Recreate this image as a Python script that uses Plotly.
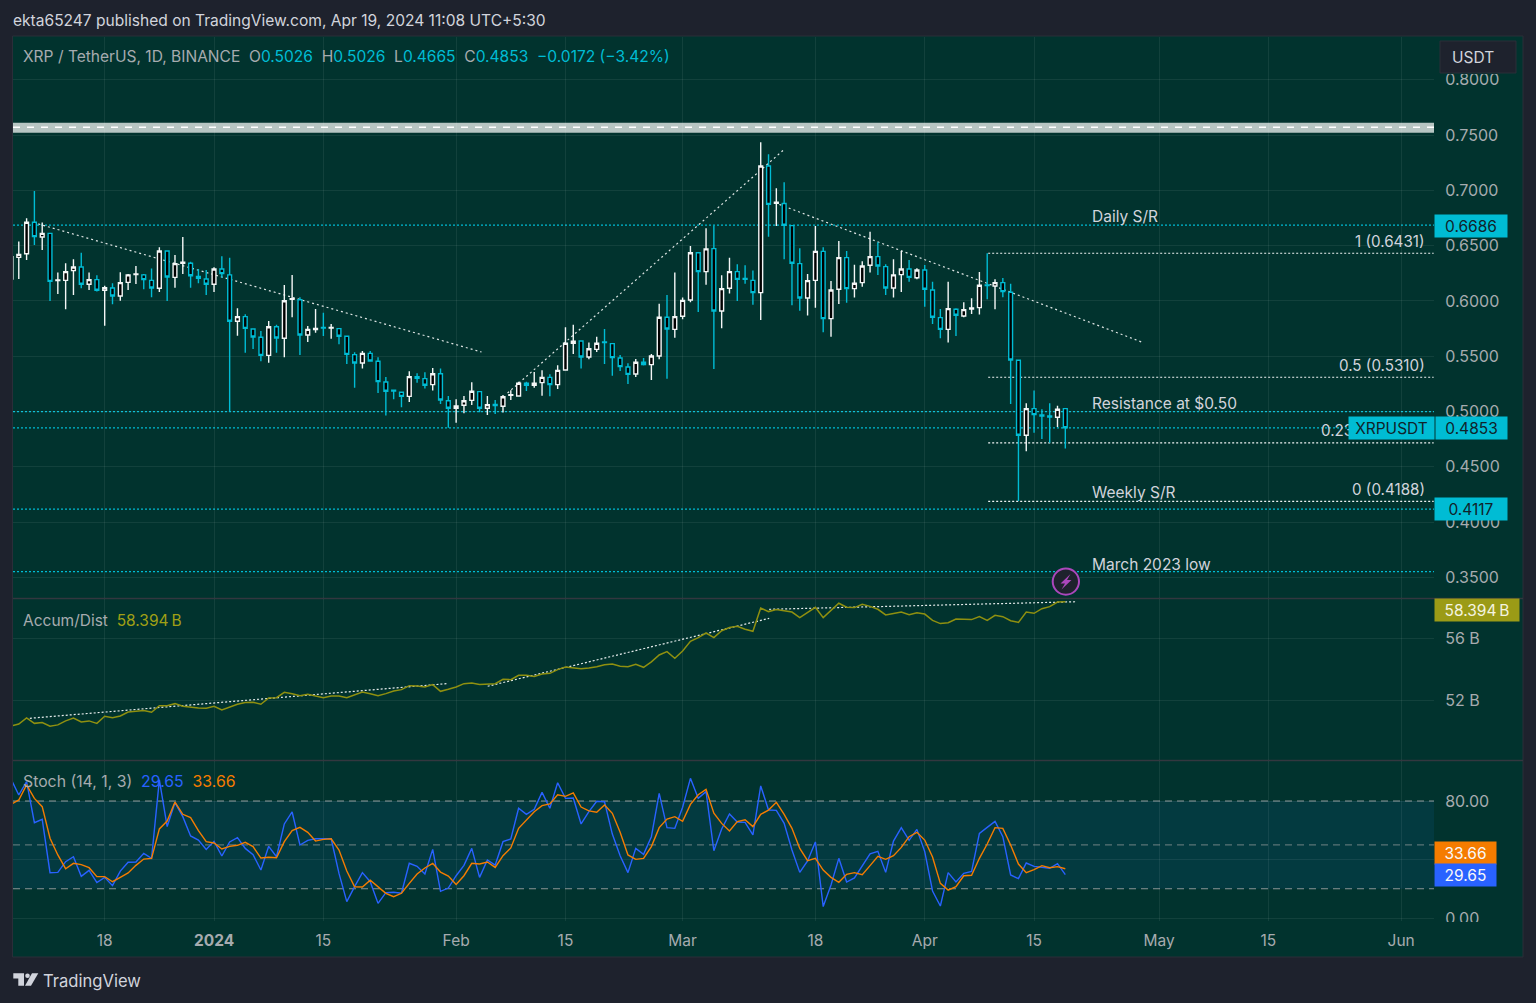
# XRP / USDT daily chart with Accum/Dist and Stochastic panes

import pandas as pd
import plotly.graph_objs as go

W, H = 1536, 1003

opens_dec = [.6198, .6394, .6427, .6711, .6578, .6611, .6183, .6186, .6274, .6307, .6150, .6192, .6096, .6117, .6045, .6168, .6238, .6235, .6186, .6114, .6451, .6213, .6340, .6340, .6222, .6198]
highs_dec = [.6400, .6536, .6747, .6994, .6708, .6611, .6256, .6340, .6376, .6436, .6256, .6232, .6138, .6159, .6259, .6244, .6316, .6244, .6292, .6485, .6457, .6415, .6578, .6355, .6289, .6280]
lows_dec = [.6198, .6198, .6370, .6506, .6461, .5999, .6063, .5924, .6054, .6114, .6099, .6084, .5776, .5969, .6002, .6099, .6153, .6105, .6033, .6081, .5999, .6120, .6244, .6120, .6159, .6054]
closes_dec = [.6400, .6421, .6711, .6581, .6611, .6177, .6189, .6265, .6307, .6150, .6192, .6096, .6120, .6045, .6165, .6235, .6244, .6192, .6117, .6451, .6216, .6337, .6349, .6228, .6204, .6150]

opens_jan = [.6150, .6289, .6235, .5816, .5858, .5746, .5671, .5508, .5767, .5662, .6014, .6011, .5692, .5740, .5761, .5755, .5749, .5680, .5514, .5439, .5526, .5454, .5267, .5192, .5174, .5137, .5315, .5297, .5243, .5342, .5098]
highs_jan = [.6304, .6403, .6391, .5933, .5879, .5752, .5728, .5819, .5785, .6144, .6235, .6033, .5773, .5927, .5894, .5791, .5755, .5683, .5535, .5547, .5547, .5490, .5312, .5192, .5177, .5363, .5345, .5354, .5393, .5390, .5140]
lows_jan = [.6081, .6210, .4999, .5686, .5532, .5565, .5454, .5442, .5532, .5490, .5852, .5511, .5629, .5713, .5683, .5659, .5608, .5430, .5216, .5388, .5451, .5168, .4963, .5110, .5038, .5086, .5261, .5207, .5189, .5068, .4854]
closes_jan = [.6289, .6247, .5816, .5858, .5752, .5674, .5508, .5767, .5665, .6002, .6020, .5692, .5743, .5752, .5755, .5761, .5680, .5517, .5439, .5526, .5457, .5270, .5183, .5186, .5137, .5315, .5300, .5237, .5342, .5104, .5029]

opens_feb = [.5029, .5056, .5101, .5180, .5029, .5065, .5047, .5146, .5140, .5255, .5237, .5261, .5309, .5243, .5375, .5617, .5638, .5493, .5562, .5629, .5614, .5484, .5403, .5339, .5445, .5424, .5502, .5852, .5743]
highs_feb = [.5110, .5140, .5264, .5183, .5140, .5104, .5149, .5192, .5270, .5270, .5357, .5372, .5336, .5418, .5761, .5785, .5641, .5623, .5677, .5746, .5617, .5511, .5436, .5475, .5484, .5520, .5975, .6054, .6256]
lows_feb = [.4899, .4984, .5059, .4993, .4969, .4978, .4990, .5104, .5134, .5186, .5216, .5143, .5137, .5204, .5369, .5520, .5390, .5472, .5538, .5430, .5324, .5366, .5249, .5312, .5415, .5285, .5472, .5297, .5668]
closes_feb = [.5050, .5098, .5183, .5029, .5062, .5053, .5134, .5152, .5255, .5237, .5255, .5309, .5243, .5372, .5617, .5635, .5493, .5568, .5617, .5623, .5487, .5406, .5336, .5445, .5424, .5502, .5852, .5746, .5858]

opens_mar = [.5861, .6008, .6436, .6265, .6473, .5909, .6114, .6265, .6204, .6186, .6075, .7220, .6883, .6880, .6681, .6337, .6026, .6186, .6448, .5840, .6105, .6391, .6111, .6165, .6322, .6400, .6310, .6117, .6238, .6289, .6210]
highs_mar = [.6030, .6497, .6436, .6656, .6680, .6232, .6391, .6331, .6322, .6274, .7434, .7326, .7018, .7072, .6681, .6476, .6244, .6678, .6485, .6180, .6542, .6451, .6328, .6358, .6626, .6530, .6331, .6376, .6451, .6370, .6295]
lows_mar = [.5834, .5987, .5900, .6147, .5384, .5752, .6066, .5999, .6156, .5966, .5828, .6581, .6678, .6376, .5960, .5912, .5867, .5939, .5716, .5677, .5972, .5984, .6030, .6129, .6256, .6235, .6054, .6030, .6081, .6174, .6195]
closes_mar = [.6005, .6436, .6265, .6470, .5909, .6111, .6265, .6195, .6195, .6075, .7220, .6873, .6892, .6684, .6340, .6026, .6183, .6448, .5840, .6099, .6391, .6111, .6159, .6316, .6400, .6316, .6117, .6235, .6289, .6213, .6280]

opens_apr = [.6280, .6099, .5849, .5743, .5924, .5864, .5927, .5939, .6144, .6135, .6165, .6078, .5463, .4785, .5026, .4969, .4960, .4948, .5026]
highs_apr = [.6325, .6174, .5927, .6174, .5933, .5987, .6024, .6262, .6430, .6195, .6207, .6156, .5466, .5074, .5189, .5020, .5074, .5053, .5026]
lows_apr = [.5948, .5791, .5662, .5623, .5683, .5852, .5882, .5876, .6014, .5924, .6033, .5068, .4191, .4640, .4809, .4752, .4718, .4860, .4665]
closes_apr = [.6105, .5852, .5743, .5930, .5870, .5921, .5936, .6141, .6138, .6165, .6084, .5466, .4785, .5026, .4972, .4960, .4951, .5020, .4853]

accum_dec = [50.33, 50.46, 50.85, 50.50, 50.55, 50.31, 50.40, 50.66, 50.85, 50.59, 50.66, 50.50, 50.96, 50.87, 50.98, 51.24, 51.28, 51.33, 51.22, 51.65, 51.65, 51.78, 51.61, 51.54, 51.50, 51.48]
accum_jan = [51.61, 51.37, 51.57, 51.74, 51.85, 51.87, 51.74, 52.15, 52.17, 52.52, 52.43, 52.30, 52.39, 52.28, 52.17, 52.28, 52.28, 52.17, 52.37, 52.54, 52.43, 52.30, 52.43, 52.60, 52.69, 52.95, 52.93, 52.86, 53.02, 52.58, 52.71]
accum_feb = [52.86, 53.08, 53.12, 53.02, 53.06, 53.08, 53.36, 53.34, 53.62, 53.62, 53.54, 53.71, 53.75, 53.99, 54.16, 54.10, 54.05, 54.10, 54.18, 54.31, 54.36, 54.21, 54.18, 54.34, 54.14, 54.49, 54.94, 55.16, 54.73]
accum_mar = [55.20, 55.83, 56.07, 56.37, 56.07, 56.52, 56.72, 56.80, 56.61, 56.48, 57.99, 57.76, 57.89, 57.80, 57.73, 57.37, 57.71, 58.04, 57.37, 57.84, 58.30, 58.04, 58.02, 58.23, 58.10, 57.91, 57.54, 57.63, 57.73, 57.56, 57.69]
accum_apr = [57.60, 57.19, 56.98, 57.04, 57.28, 57.28, 57.24, 57.43, 57.19, 57.52, 57.43, 57.17, 57.06, 57.73, 57.65, 57.95, 58.08, 58.38, 58.394]

stoch_k_dec = [95, 84.1, 93.2, 65.2, 67.5, 31.0, 31.2, 38.5, 41.9, 28.5, 32.6, 24.2, 27.8, 22.1, 32.1, 38.1, 38.3, 44.2, 40.8, 94.4, 62.5, 78.9, 69.3, 56.1, 53.3, 46.9]
stoch_k_jan = [52.4, 42.4, 52, 54.9, 47.6, 43.3, 32.8, 49, 41.9, 64.3, 72.5, 49.9, 53.1, 54.2, 54.2, 54.2, 30.5, 11.2, 21.4, 31, 24.8, 10, 17.3, 17.6, 16.9, 37.4, 35.3, 30.1, 46.9, 18.2, 20.5]
stoch_k_feb = [28.9, 36, 47.6, 27.8, 39.7, 36.2, 52.2, 54, 75, 70.9, 74.3, 85.9, 75, 92.5, 81.8, 82, 64.3, 72.7, 79.8, 79.5, 57.4, 42.6, 31, 47.6, 43.5, 55.6, 85.2, 61.8, 61.3]
stoch_k_mar = [75.7, 95.5, 81.8, 86.4, 46, 60.9, 71.1, 65.6, 65.4, 56.8, 90.3, 73.8, 73.6, 64.7, 46.5, 31.2, 39, 52, 7.8, 22.6, 40.8, 24.6, 27.4, 35.6, 43.8, 45.6, 31.2, 52.6, 61.8, 53.1, 60.6]
stoch_k_apr = [45.4, 18.5, 8.2, 31, 24.6, 30.5, 31.9, 57.9, 62, 66.1, 55.6, 29.4, 26.9, 37.6, 35.3, 34.6, 34, 37.2, 29.65]

stoch_d_dec = [77.7, 80.7, 91, 81.8, 76.1, 54.5, 43.1, 33.7, 37.4, 36.5, 34.4, 28.3, 28.3, 24.8, 27.8, 30.8, 36, 40.3, 40.8, 60.9, 66.3, 79.3, 70.9, 68.6, 59.7, 52.2]
stoch_d_jan = [51.3, 47.2, 49, 49.7, 51.7, 48.8, 41, 41.5, 41.2, 52.2, 59.7, 62, 58.6, 52.6, 53.8, 54.2, 46.5, 32.1, 21.4, 21.2, 25.8, 21.4, 16.9, 14.6, 16.9, 23.7, 30.1, 34.2, 37.4, 31.4, 28.7]
stoch_d_feb = [23, 28.9, 37.4, 36.9, 38.3, 34.6, 42.6, 47.9, 61.3, 67, 72.7, 76.8, 78, 84.3, 83.2, 85.5, 75.9, 73.2, 72.3, 77.3, 71.6, 58.6, 43.1, 40.1, 40.8, 48.8, 61.8, 67.7, 69.3]
stoch_d_mar = [66.1, 77.7, 84.3, 88, 71.6, 64.7, 59.5, 65.9, 67.2, 62.5, 70.9, 73.8, 79.1, 70.9, 61.3, 47.6, 39.2, 40.8, 32.8, 27.8, 24.4, 29.9, 31, 29.6, 35.8, 42.2, 40.1, 42.6, 48.3, 55.6, 58.6]
stoch_d_apr = [53.3, 41.7, 23.7, 19.1, 21.4, 28.9, 29.2, 40.8, 50.6, 61.8, 61.3, 49.9, 36.9, 31, 33.1, 35.8, 34.4, 35.1, 33.66]

opens = opens_dec + opens_jan + opens_feb + opens_mar + opens_apr
highs = highs_dec + highs_jan + highs_feb + highs_mar + highs_apr
lows = lows_dec + lows_jan + lows_feb + lows_mar + lows_apr
closes = closes_dec + closes_jan + closes_feb + closes_mar + closes_apr
accum = accum_dec + accum_jan + accum_feb + accum_mar + accum_apr
stoch_k = stoch_k_dec + stoch_k_jan + stoch_k_feb + stoch_k_mar + stoch_k_apr
stoch_d = stoch_d_dec + stoch_d_jan + stoch_d_feb + stoch_d_mar + stoch_d_apr
dates = pd.date_range('2023-12-06', periods=len(closes), freq='D')

# levels and hand drawn lines on the price pane
cyan_levels = [0.6686, 0.4999, 0.4853, 0.4117, 0.3552]
fib_levels = [0.6431, 0.5310, 0.4717, 0.4188]
fib_dates = ['2024-04-09 03:00', '2024-06-05 04:00']
price_trend_dates = [('2023-12-09 12:00', '2024-02-04 06:00'),
                     ('2024-02-07 14:00', '2024-03-13 22:00'),
                     ('2024-03-12 19:00', '2024-04-28 19:00')]
price_trend_values = [(0.6696, 0.5538), (0.5167, 0.7364), (0.6888, 0.5628)]
accum_trend_dates = [('2023-12-08 10:00', '2024-01-30 19:00'),
                     ('2024-02-05 01:00', '2024-03-12 02:00'),
                     ('2024-03-12 02:00', '2024-04-20 08:00')]
accum_trend_values = [(50.83, 53.08), (52.91, 57.32), (57.91, 58.40)]
band_values = [0.7521, 0.7611]
band_dash_value = 0.7570

price_ticks = [0.35, 0.40, 0.45, 0.50, 0.55, 0.60, 0.65, 0.70, 0.75, 0.80]
price_tick_labels = ['0.3500', '0.4000', '0.4500', '0.5000', '0.5500', '0.6000', '0.6500', '0.7000', '0.7500', '0.8000']
accum_ticks = [52, 56]
accum_tick_labels = ['52 B', '56 B']
stoch_ticks = [0, 40, 80]
stoch_tick_labels = ['0.00', '', '80.00']
date_ticks = ['2023-12-18', '2024-01-01', '2024-01-15', '2024-02-01', '2024-02-15', '2024-03-01',
              '2024-03-18', '2024-04-01', '2024-04-15', '2024-05-01', '2024-05-15', '2024-06-01']
date_tick_labels = ['18', '<b>2024</b>', '15', 'Feb', '15', 'Mar', '18', 'Apr', '15', 'May', '15', 'Jun']

FRAME = '#1e222d'
PANEL = '#01332e'
GRID = 'rgba(255,255,255,0.07)'
CYAN = '#00bcd4'
OLIVE = '#8f9010'
FONT = 'Inter'
TEXT = '#d1d4dc'
MUTED = '#a6abaf'


def px(x):
    return x / W


def py(y):
    return 1 - y / H


def note(text, x, y, size=15.5, color=TEXT, anchor='left'):
    return dict(text=text, x=px(x), y=py(y), xref='paper', yref='paper', xanchor=anchor, yanchor='middle',
                showarrow=False, font=dict(family=FONT, size=size, color=color))


def tag(text, x0, x1, y, color, text_color='#10232a'):
    return dict(text=text, x=px(x0), y=py(y), xref='paper', yref='paper', xanchor='left', yanchor='middle',
                width=x1 - x0, height=22, bgcolor=color, align='center', valign='middle', borderpad=0,
                showarrow=False, font=dict(family=FONT, size=15.5, color=text_color))


def span(text, color):
    return '<span style="color:%s">%s</span>' % (color, text)


def level(x0, x1, y0, y1, xref, yref, color, dash, width=1.2):
    return dict(type='line', x0=x0, x1=x1, y0=y0, y1=y1, xref=xref, yref=yref, layer='below',
                line=dict(color=color, width=width, dash=dash))


def polygon(points, color):
    path = 'M' + ' L'.join('%f,%f' % (px(x), py(y)) for x, y in points) + ' Z'
    return dict(type='path', xref='paper', yref='paper', fillcolor=color, line=dict(width=0), layer='above', path=path)


data = [
    go.Candlestick(
        x=dates, open=opens, high=highs, low=lows, close=closes,
        increasing=dict(line=dict(color='#f4f6f6', width=1.4), fillcolor='#000000'),
        decreasing=dict(line=dict(color=CYAN, width=1.4), fillcolor='#000000'),
        whiskerwidth=0, showlegend=False, xaxis='x', yaxis='y'),
    go.Scatter(x=dates, y=accum, mode='lines', line=dict(color=OLIVE, width=1.5),
               showlegend=False, xaxis='x2', yaxis='y2'),
    go.Scatter(x=dates, y=stoch_k, mode='lines', line=dict(color='#2962ff', width=1.4),
               showlegend=False, xaxis='x3', yaxis='y3'),
    go.Scatter(x=dates, y=stoch_d, mode='lines', line=dict(color='#f57c00', width=1.4),
               showlegend=False, xaxis='x3', yaxis='y3'),
]

shapes = [
    # chart panel
    dict(type='rect', x0=px(12.5), x1=px(1523), y0=py(957), y1=py(36), xref='paper', yref='paper', layer='below',
         fillcolor=PANEL, line=dict(color='#2a2e39', width=1)),
    # white band near 0.75
    dict(type='rect', x0=0, x1=1, y0=band_values[0], y1=band_values[1], xref='x domain', yref='y', layer='below',
         fillcolor='#b7c6c3', line=dict(width=0)),
    level(0, 1, band_dash_value, band_dash_value, 'x domain', 'y', '#ffffff', '7px,7px', 1.3),
    # stochastic band
    dict(type='rect', x0=0, x1=1, y0=20, y1=80, xref='x3 domain', yref='y3', layer='below',
         fillcolor='#033a40', line=dict(width=0)),
    level(0, 1, 80, 80, 'x3 domain', 'y3', '#8b9597', '7px,5px'),
    level(0, 1, 50, 50, 'x3 domain', 'y3', '#5b7476', '7px,5px'),
    level(0, 1, 20, 20, 'x3 domain', 'y3', '#8b9597', '7px,5px'),
    # pane separators
    dict(type='line', x0=px(13), x1=px(1523), y0=py(598.5), y1=py(598.5), xref='paper', yref='paper', layer='below',
         line=dict(color='#33373f', width=1.5)),
    dict(type='line', x0=px(13), x1=px(1523), y0=py(760.5), y1=py(760.5), xref='paper', yref='paper', layer='below',
         line=dict(color='#33373f', width=1.5)),
    # cover the clipped scale labels
    dict(type='rect', x0=px(1435), x1=px(1522), y0=py(74), y1=py(37), xref='paper', yref='paper', layer='above',
         fillcolor=PANEL, line=dict(width=0)),
    dict(type='rect', x0=px(1435), x1=px(1522), y0=py(956), y1=py(922), xref='paper', yref='paper', layer='above',
         fillcolor=PANEL, line=dict(width=0)),
    # currency button
    dict(type='rect', x0=px(1440), x1=px(1516), y0=py(73), y1=py(41), xref='paper', yref='paper', layer='above',
         fillcolor=FRAME, line=dict(color='#2a2e39', width=1)),
    # alert icon
    dict(type='circle', x0=px(1052.7), x1=px(1079), y0=py(594.7), y1=py(568.5), xref='paper', yref='paper', layer='above',
         fillcolor=FRAME, line=dict(color='#ab47bc', width=2)),
    polygon([(1070.5, 574), (1060.5, 583.5), (1065, 583.5), (1061.5, 589.5), (1071.5, 580), (1067, 580)], '#ab47bc'),
    # logo
    polygon([(13.3, 973.3), (24, 973.3), (24, 985.7), (18.3, 985.7), (18.3, 978.5), (13.3, 978.5)], TEXT),
    dict(type='circle', xref='paper', yref='paper', fillcolor=TEXT, line=dict(width=0), layer='above',
         x0=px(25.2), x1=px(29.8), y0=py(978.1), y1=py(973.5)),
    polygon([(32, 973.3), (38.3, 973.3), (31, 985.7), (25, 985.7)], TEXT),
]
for value in cyan_levels:
    shapes.append(level(0, 1, value, value, 'x domain', 'y', CYAN, '2px,2px'))
for value in fib_levels:
    shapes.append(level(fib_dates[0], fib_dates[1], value, value, 'x', 'y', '#f0f3f3', '2px,2px'))
for (d0, d1), (v0, v1) in zip(price_trend_dates, price_trend_values):
    shapes.append(level(d0, d1, v0, v1, 'x', 'y', '#dfe5e4', '2px,3px'))
for (d0, d1), (v0, v1) in zip(accum_trend_dates, accum_trend_values):
    shapes.append(level(d0, d1, v0, v1, 'x2', 'y2', '#e6ecec', '2px,2px'))

annotations = [
    note('ekta65247 published on TradingView.com, Apr 19, 2024 11:08 UTC+5:30', 11, 20, 15.55),
    note('XRP / TetherUS, 1D, BINANCE\u00a0\u00a0O' + span('0.5026', CYAN) + '\u00a0\u00a0H' + span('0.5026', CYAN)
         + '\u00a0\u00a0L' + span('0.4665', CYAN) + '\u00a0\u00a0C' + span('0.4853', CYAN)
         + '\u00a0\u00a0' + span('\u22120.0172 (\u22123.42%)', CYAN), 21, 56, 15.55, MUTED),
    note('Accum/Dist\u00a0\u00a0' + span('58.394\u202fB', '#a0a015'), 21, 620, 15.5, MUTED),
    note('Stoch (14, 1, 3)\u00a0\u00a0' + span('29.65', '#2962ff') + '\u00a0\u00a0' + span('33.66', '#f57c00'),
         21, 781, 15.8, MUTED),
    note('Daily S/R', 1090, 216),
    note('1 (0.6431)', 1427, 241, 15.2, anchor='right'),
    note('0.5 (0.5310)', 1427, 366, 15.2, anchor='right'),
    note('Resistance at $0.50', 1090, 403.5),
    note('0.236 (0.4717)', 1427, 431, 15.2, anchor='right'),
    note('0 (0.4188)', 1427, 489, 15.2, anchor='right'),
    note('Weekly S/R', 1090, 492.5),
    note('March 2023 low', 1090, 564),
    note('TradingView', 41, 981, 16.6),
    note('USDT', 1450, 57, 15.5),
    tag('0.6686', 1434, 1506, 226, CYAN),
    tag('XRPUSDT', 1348, 1433, 428, CYAN),
    tag('0.4853', 1435, 1506, 428, CYAN),
    tag('0.4117', 1434, 1506, 509, CYAN),
    tag('58.394\u202fB', 1434, 1518, 610, '#9b9b16', '#f4f4e0'),
    tag('33.66', 1434, 1495, 853, '#f57c00', '#f8f8f8'),
    tag('29.65', 1434, 1495, 875, '#2962ff', '#f8f8f8'),
]

x_range = ['2023-12-06 06:14', '2024-06-05 05:00']
x_domain = [px(13), px(1434)]
x_common = dict(type='date', domain=x_domain, range=x_range, tickmode='array', tickvals=date_ticks, automargin=False,
                showgrid=True, gridcolor=GRID, gridwidth=1, zeroline=False, showline=False)
y_common = dict(side='right', showgrid=True, gridcolor=GRID, gridwidth=1, zeroline=False, showline=False,
                automargin=False, tickmode='array', ticks='outside', ticklen=7, tickcolor='rgba(0,0,0,0)',
                tickfont=dict(family=FONT, size=16, color=MUTED))

layout = go.Layout(
    width=W,
    height=H,
    autosize=False,
    margin=dict(l=0, r=0, t=0, b=0),
    paper_bgcolor=FRAME,
    plot_bgcolor='rgba(0,0,0,0)',
    hovermode=False,
    showlegend=False,
    xaxis=dict(x_common, anchor='y', showticklabels=False, rangeslider=dict(visible=False)),
    xaxis2=dict(x_common, anchor='y2', showticklabels=False, matches='x'),
    xaxis3=dict(x_common, anchor='y3', matches='x', ticktext=date_tick_labels, ticks='outside', ticklen=5,
                tickcolor='rgba(0,0,0,0)', tickfont=dict(family=FONT, size=15.5, color=MUTED)),
    yaxis=dict(y_common, anchor='x', domain=[py(598), py(37)], range=[0.3314, 0.8386],
               tickvals=price_ticks, ticktext=price_tick_labels),
    yaxis2=dict(y_common, anchor='x2', domain=[py(760), py(599)], range=[48.12, 58.578],
                tickvals=accum_ticks, ticktext=accum_tick_labels),
    yaxis3=dict(y_common, anchor='x3', domain=[py(921), py(761)], range=[-2.05, 107.35],
                tickvals=stoch_ticks, ticktext=stoch_tick_labels),
    shapes=shapes,
    annotations=annotations,
)

fig = go.Figure(data=data, layout=layout)
fig.write_html("out.html", config=dict(displayModeBar=False),
               post_script="document.body.style.margin='0';document.body.style.overflow='hidden';")
